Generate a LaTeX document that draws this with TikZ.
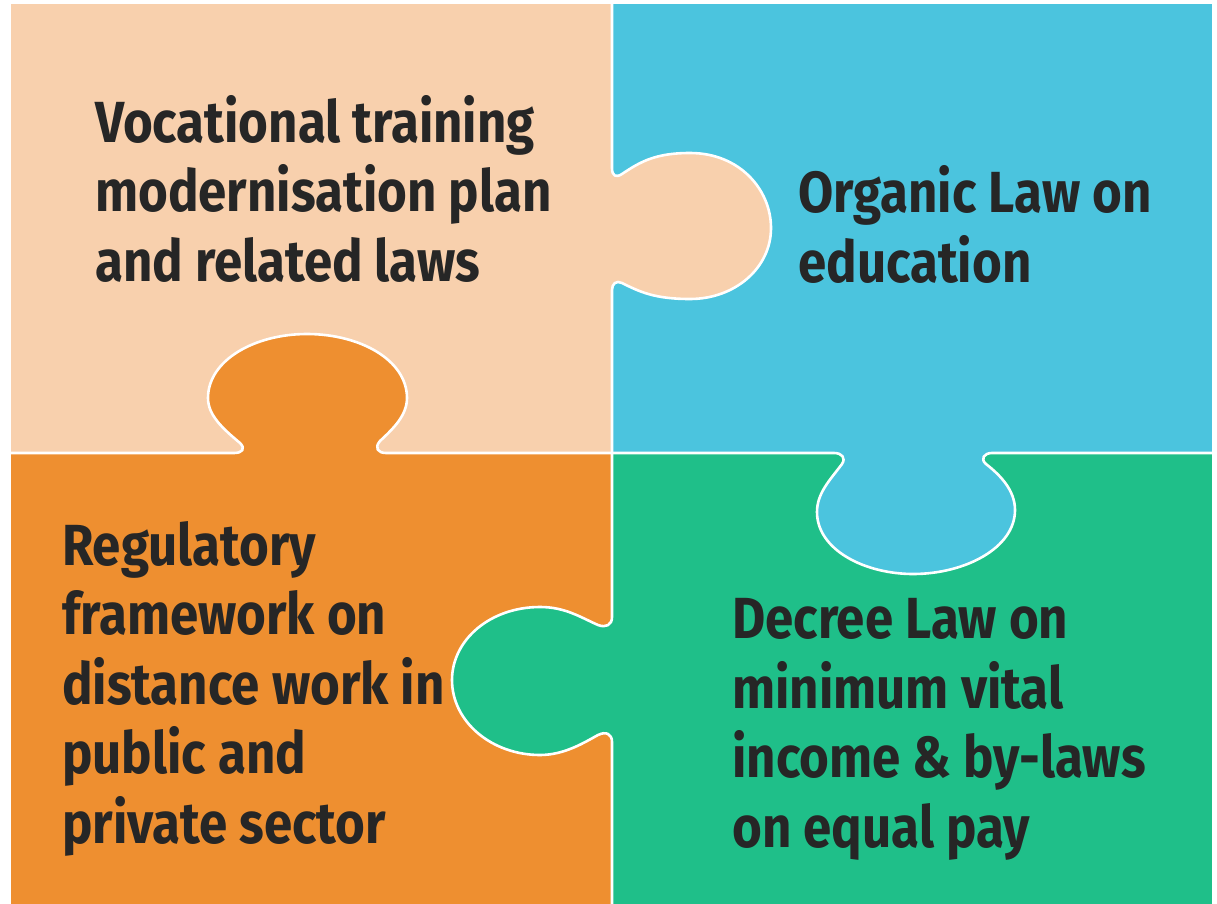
\documentclass[tikz,border=0pt]{standalone}
\usepackage{fontspec}
\newfontfamily\puzzlefont{Fira Sans}[FakeStretch=0.88]
\definecolor{peach}{HTML}{F8D0AD}
\definecolor{sky}{HTML}{4BC4DE}
\definecolor{tangerine}{HTML}{EE8F30}
\definecolor{jade}{HTML}{1FBF89}
\definecolor{ink}{HTML}{262626}
\tikzset{
  seam/.style={draw=white, line width=2.6pt, line join=round},
  label/.style={anchor=base west, inner sep=0pt, align=left, text=ink,
    font=\puzzlefont\bfseries\fontsize{58}{69.5}\selectfont}
}
\begin{document}
\begin{tikzpicture}[x=1pt,y=-1pt]
\useasboundingbox (0,0) rectangle (1217,904);
\fill[white] (0,0) rectangle (1217,904);
% base pieces
\fill[peach] (11,4) rectangle (612,453);
\fill[sky] (612,4) rectangle (1212,453);
\fill[tangerine] (11,453) rectangle (612,904);
\fill[jade] (612,453) rectangle (1212,904);
% tabs
\fill[peach] (612,168) .. controls (612,176) and (616,178) .. (622,174)
  .. controls (640,162) and (655,153) .. (690,153)
  .. controls (740,153) and (771,190) .. (771,228)
  .. controls (771,268) and (735,299) .. (690,299)
  .. controls (655,299) and (640,292) .. (622,283)
  .. controls (616,280) and (612,284) .. (612,290) -- cycle;
\fill[tangerine] (234,453) .. controls (242,453) and (246,449) .. (240,443)
  .. controls (222,428) and (208,415) .. (208,398)
  .. controls (208,360) and (255,334) .. (307,334)
  .. controls (360,334) and (407,360) .. (407,398)
  .. controls (407,415) and (394,428) .. (380,441)
  .. controls (374,448) and (378,453) .. (386,453) -- cycle;
\fill[sky] (834,453) .. controls (842,453) and (846,458) .. (842,464)
  .. controls (830,480) and (817,493) .. (817,512)
  .. controls (817,550) and (865,574) .. (913,574)
  .. controls (965,574) and (1015,548) .. (1015,510)
  .. controls (1015,490) and (1000,475) .. (986,464)
  .. controls (980,459) and (984,453) .. (992,453) -- cycle;
\fill[jade] (612,617) .. controls (612,625) and (606,628) .. (598,625)
  .. controls (580,617) and (565,607) .. (540,607)
  .. controls (490,607) and (452,640) .. (452,680)
  .. controls (452,722) and (492,755) .. (540,755)
  .. controls (565,755) and (585,742) .. (598,735)
  .. controls (606,731) and (612,734) .. (612,742) -- cycle;
% seams
\draw[seam] (612,4) -- (612,168) .. controls (612,176) and (616,178) .. (622,174)
  .. controls (640,162) and (655,153) .. (690,153)
  .. controls (740,153) and (771,190) .. (771,228)
  .. controls (771,268) and (735,299) .. (690,299)
  .. controls (655,299) and (640,292) .. (622,283)
  .. controls (616,280) and (612,284) .. (612,290) -- (612,453);
\draw[seam] (11,453) -- (234,453) .. controls (242,453) and (246,449) .. (240,443)
  .. controls (222,428) and (208,415) .. (208,398)
  .. controls (208,360) and (255,334) .. (307,334)
  .. controls (360,334) and (407,360) .. (407,398)
  .. controls (407,415) and (394,428) .. (380,441)
  .. controls (374,448) and (378,453) .. (386,453) -- (612,453);
\draw[seam] (612,453) -- (834,453) .. controls (842,453) and (846,458) .. (842,464)
  .. controls (830,480) and (817,493) .. (817,512)
  .. controls (817,550) and (865,574) .. (913,574)
  .. controls (965,574) and (1015,548) .. (1015,510)
  .. controls (1015,490) and (1000,475) .. (986,464)
  .. controls (980,459) and (984,453) .. (992,453) -- (1212,453);
\draw[seam] (612,453) -- (612,617) .. controls (612,625) and (606,628) .. (598,625)
  .. controls (580,617) and (565,607) .. (540,607)
  .. controls (490,607) and (452,640) .. (452,680)
  .. controls (452,722) and (492,755) .. (540,755)
  .. controls (565,755) and (585,742) .. (598,735)
  .. controls (606,731) and (612,734) .. (612,742) -- (612,904);
% labels (anchored at the baseline of the last line)
\node[label] (vt) at (95,281) {Vocational training\\modernisation plan\\and related laws};
\node[label] (ol) at (798,282) {Organic Law on\\education};
\node[label] (rf) at (62,843) {Regulatory\\framework on\\distance work in\\public and\\private sector};
\node[label] (dl) at (732,847) {Decree Law on\\minimum vital\\income \& by-laws\\on equal pay};
\end{tikzpicture}
\end{document}
